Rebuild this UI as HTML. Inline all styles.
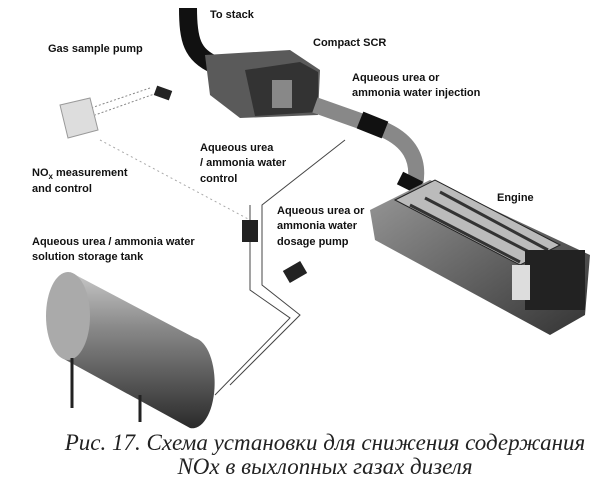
<!DOCTYPE html>
<html><head><meta charset="utf-8"><style>
html,body{margin:0;padding:0;background:#fff;}
body{width:604px;height:486px;overflow:hidden;position:relative;}
svg{position:absolute;left:0;top:0;}
.l{font-family:"Liberation Sans",sans-serif;font-weight:bold;font-size:11px;fill:#111;}
.c{font-family:"Liberation Serif","DejaVu Serif",serif;font-style:italic;font-size:23px;fill:#222;}
</style></head><body>
<svg width="604" height="486" viewBox="0 0 604 486">
<defs>
<linearGradient id="tank" x1="0" y1="0" x2="0" y2="1">
<stop offset="0" stop-color="#c8c8c8"/><stop offset="0.35" stop-color="#8a8a8a"/><stop offset="1" stop-color="#2a2a2a"/></linearGradient>
<linearGradient id="eng" x1="0" y1="0" x2="1" y2="1">
<stop offset="0" stop-color="#999"/><stop offset="1" stop-color="#333"/></linearGradient>
</defs>
<path d="M188 8 C188 40 192 55 215 65" stroke="#111" stroke-width="18" fill="none"/>
<path d="M205 55 L290 50 L320 70 L318 115 L240 118 L210 95 Z" fill="#5a5a5a"/>
<path d="M245 70 L300 62 L318 72 L318 112 L255 116 Z" fill="#333"/>
<rect x="272" y="80" width="20" height="28" fill="#888"/>
<path d="M315 105 L380 128 C410 140 420 160 415 185" stroke="#888" stroke-width="16" fill="none"/>
<path d="M360 120 L385 130" stroke="#111" stroke-width="18"/>
<path d="M400 178 L420 188" stroke="#111" stroke-width="14"/>
<path d="M370 210 L430 180 L590 255 L585 315 L550 335 L375 240 Z" fill="url(#eng)"/>
<path d="M395 200 L435 180 L560 245 L520 265 Z" fill="#bbb" stroke="#222"/>
<path d="M410 205 L520 262 M425 198 L535 255 M440 192 L548 250" stroke="#333" stroke-width="3"/>
<rect x="525" y="250" width="60" height="60" fill="#222"/>
<rect x="512" y="265" width="18" height="35" fill="#ddd"/>
<path d="M345 140 L262 205 L262 285 L300 315 L230 385" stroke="#444" stroke-width="1" fill="none"/>
<path d="M250 205 L250 290 L290 318 L215 395" stroke="#444" stroke-width="1" fill="none"/>
<path d="M160 92 L95 115 M150 88 L85 110" stroke="#888" stroke-dasharray="2 2"/>
<path d="M100 140 L250 220" stroke="#aaa" stroke-dasharray="2 3"/>
<rect x="242" y="220" width="16" height="22" fill="#222"/>
<rect x="285" y="265" width="20" height="14" fill="#222" transform="rotate(-30 295 272)"/>
<rect x="155" y="88" width="16" height="10" fill="#222" transform="rotate(20 163 93)"/>
<path d="M60 105 L90 98 L98 130 L68 138 Z" fill="#ddd" stroke="#999"/>
<path d="M70 272 L195 338 A22 45 0 0 1 190 428 L62 358 Z" fill="url(#tank)"/>
<ellipse cx="68" cy="316" rx="22" ry="44" fill="#aaa"/>
<path d="M72 358 L72 408 M140 395 L140 422" stroke="#222" stroke-width="3"/>
<text class="l" x="210" y="18">To stack</text>
<text class="l" x="48" y="52">Gas sample pump</text>
<text class="l" x="313" y="46">Compact SCR</text>
<text class="l" x="352" y="81">Aqueous urea or</text>
<text class="l" x="352" y="96">ammonia water injection</text>
<text class="l" x="200" y="151">Aqueous urea</text>
<text class="l" x="200" y="166">/ ammonia water</text>
<text class="l" x="200" y="182">control</text>
<text class="l" x="32" y="176">NO<tspan font-size="8" dy="3">x</tspan><tspan dy="-3"> measurement</tspan></text>
<text class="l" x="32" y="192">and control</text>
<text class="l" x="497" y="201">Engine</text>
<text class="l" x="277" y="214">Aqueous urea or</text>
<text class="l" x="277" y="229">ammonia water</text>
<text class="l" x="277" y="245">dosage pump</text>
<text class="l" x="32" y="245">Aqueous urea / ammonia water</text>
<text class="l" x="32" y="260">solution storage tank</text>
<text class="c" x="325" y="450" text-anchor="middle">Рис. 17. Схема установки для снижения содержания</text>
<text class="c" x="325" y="474" text-anchor="middle">NOx в выхлопных газах дизеля</text>
</svg>
</body></html>
